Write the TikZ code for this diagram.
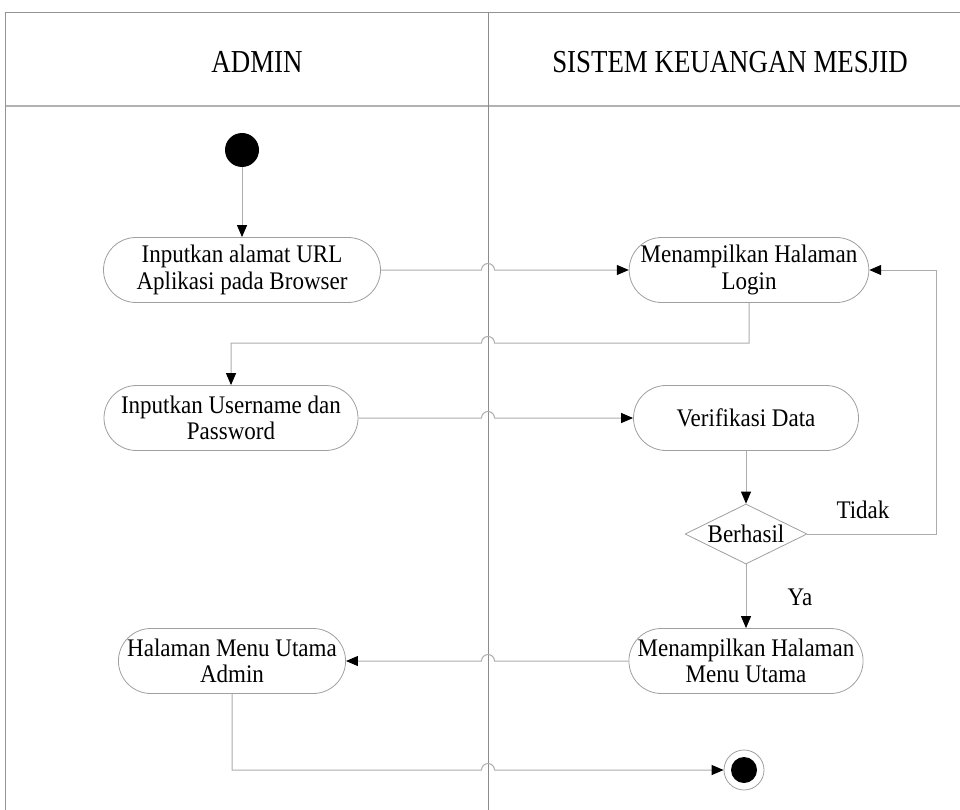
\documentclass[tikz,border=0pt]{standalone}
\usepackage{fontspec}
\setmainfont{Liberation Serif}[FakeStretch=0.91]
\newfontfamily\hdrfont{Liberation Serif}[FakeStretch=0.84]
\usetikzlibrary{arrows.meta,shapes.misc,shapes.geometric,calc}
\begin{document}
\begin{tikzpicture}[x=1pt,y=-1pt,
  act/.style={rounded rectangle, draw=gray!75, line width=0.8pt, fill=white,
    font=\fontsize{25.3}{26.5}\selectfont, align=center, inner sep=0pt,
    minimum height=65pt},
  conn/.style={draw=gray!65, line width=1pt,
    -{Triangle[length=12pt,width=10pt,color=black]}},
  frameline/.style={draw=gray!85, line width=0.9pt},
  hdr/.style={font=\hdrfont\fontsize{32}{34}\selectfont},
  lbl/.style={font=\fontsize{25.3}{26}\selectfont, inner sep=0pt}]
\useasboundingbox (0,0) rectangle (960,810);
% swimlane frame
\coordinate (tl) at (5,12);
\coordinate (tr) at (960,12);
\coordinate (hl) at (5,106);
\coordinate (hr) at (960,106);
\coordinate (bl) at (5,810);
\coordinate (mt) at (488,12);
\coordinate (mb) at (488,810);
\draw[frameline] (tl) -- (tr);
\draw[frameline, draw=gray!60, line width=1.2pt] (hl) -- (hr);
\draw[frameline] (tl) -- (bl);
\draw[frameline, draw=gray!90] (mt) -- (mb);
\node[hdr] (hadmin) at (257,62) {ADMIN};
\node[hdr] (hsys) at (730,62) {SISTEM KEUANGAN MESJID};
% nodes
\node[circle, fill=black, minimum size=34pt, inner sep=0pt] (start) at (242,150) {};
\node[act, minimum width=277pt] (n1) at (242,270) {Inputkan alamat URL\\Aplikasi pada Browser};
\node[act, minimum width=225pt] (n2) at (749,270) {Menampilkan Halaman\\Login};
\node[act, minimum width=254pt] (n3) at (231,418) {Inputkan Username dan\\Password};
\node[act, minimum width=225pt] (n4) at (746,418) {Verifikasi Data};
\node[diamond, aspect=2, draw=gray!75, line width=0.8pt, fill=white, inner sep=0pt,
  minimum width=122pt, minimum height=60pt, font=\fontsize{25.3}{26}\selectfont] (dec) at (746,534) {Berhasil};
\node[act, minimum width=225pt] (n5) at (746,661) {Menampilkan Halaman\\Menu Utama};
\node[act, minimum width=225pt] (n6) at (232,661) {Halaman Menu Utama\\Admin};
\node[circle, draw=gray!75, line width=0.8pt, minimum size=40pt, inner sep=0pt] (end) at (744,770) {};
\node[circle, fill=black, minimum size=26pt, inner sep=0pt] at (end.center) {};
% labels
\node[lbl] (tidak) at (863,510) {Tidak};
\node[lbl] (ya) at (800,597) {Ya};
% helper coordinates
\coordinate (elbow1) at (n2.south |- 0,343);
\coordinate (elbow2) at (n3.north |- 0,343);
\coordinate (rloop) at (936,0);
\coordinate (endy) at (0,770);
% connectors
\draw[conn] (start) -- (n1.north);
\draw[conn] (n1.east) -- ([xshift=-6.5pt]mt |- n1.east)
  arc[start angle=180, end angle=0, radius=6.5pt] -- (n2.west);
\draw[conn] (n2.south) -- (elbow1) -- ([xshift=6.5pt]mt |- elbow1)
  arc[start angle=0, end angle=180, radius=6.5pt] -- (elbow2) -- (n3.north);
\draw[conn] (n3.east) -- ([xshift=-6.5pt]mt |- n3.east)
  arc[start angle=180, end angle=0, radius=6.5pt] -- (n4.west);
\draw[conn] (n4.south) -- (dec.north);
\draw[conn] (dec.south) -- (n5.north);
\draw[conn] (dec.east) -- (rloop |- dec.east) -- (rloop |- n2.east) -- (n2.east);
\draw[conn] (n5.west) -- ([xshift=6.5pt]mt |- n5.west)
  arc[start angle=0, end angle=180, radius=6.5pt] -- (n6.east);
\draw[conn] (n6.south) -- (n6.south |- endy) -- ([xshift=-6.5pt]mt |- endy)
  arc[start angle=180, end angle=0, radius=6.5pt] -- (end.west);
\end{tikzpicture}
\end{document}
